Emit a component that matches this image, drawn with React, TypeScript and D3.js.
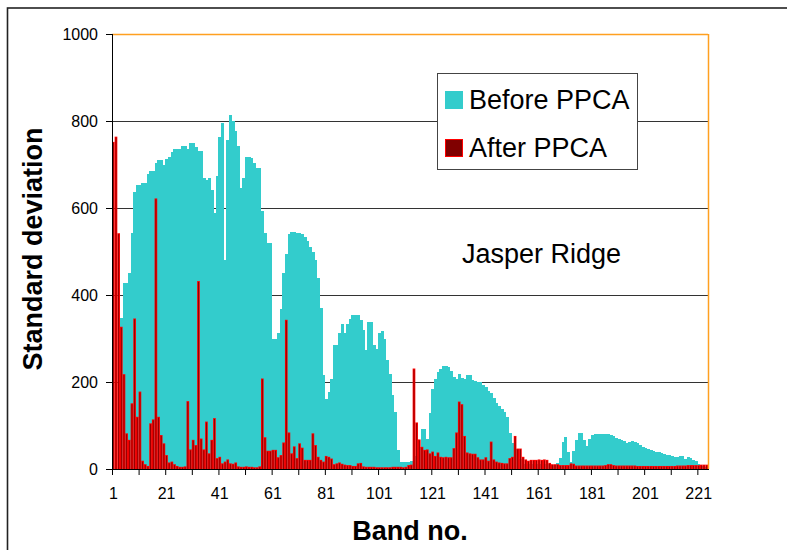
import React from "react";
import * as d3 from "d3";

const bands: number[] = Array.from({ length: 224 }, (_, i) => i + 1);

const beforePPCA: number[] = [
  0, 0, 0, 346, 428, 428, 450, 542, 637, 653,
  653, 658, 658, 678, 684, 684, 704, 710, 710, 700,
  712, 718, 728, 735, 735, 735, 743, 743, 735, 750,
  750, 740, 730, 730, 668, 664, 668, 641, 589, 674,
  764, 795, 480, 756, 814, 800, 778, 743, 645, 670,
  718, 718, 715, 703, 691, 691, 592, 543, 519, 519,
  298, 300, 313, 367, 451, 494, 540, 545, 545, 543,
  543, 540, 534, 525, 510, 498, 480, 440, 369, 216,
  162, 178, 206, 285, 285, 313, 333, 313, 333, 344,
  354, 354, 354, 342, 320, 274, 339, 339, 285, 277,
  312, 318, 300, 251, 218, 170, 130, 44, 15, 15,
  15, 15, 19, 19, 30, 50, 93, 93, 70, 128,
  183, 206, 224, 231, 237, 237, 235, 226, 211, 208,
  218, 210, 206, 216, 216, 205, 203, 199, 199, 193,
  188, 180, 174, 163, 151, 145, 138, 132, 120, 82,
  60, 45, 30, 22, 12, 12, 12, 12, 12, 12,
  12, 12, 12, 12, 12, 10, 10, 14, 25, 63,
  73, 40, 17, 42, 67, 82, 82, 67, 53, 70,
  78, 80, 80, 80, 80, 80, 80, 78, 76, 72,
  68, 66, 65, 60, 63, 65, 62, 60, 55, 51,
  48, 45, 44, 42, 40, 38, 37, 34, 32, 32,
  30, 28, 28, 30, 29, 22, 27, 25, 21, 18,
  12, 6, 5, 5,
];

const afterPPCA: number[] = [
  752, 764, 542, 327, 218, 82, 67, 151, 346, 120,
  178, 19, 11, 7, 105, 114, 622, 120, 78, 59,
  32, 15, 17, 11, 7, 5, 5, 6, 156, 45,
  67, 55, 432, 70, 45, 109, 36, 67, 117, 25,
  28, 13, 17, 22, 13, 12, 15, 6, 5, 5,
  6, 5, 5, 4, 4, 6, 208, 73, 42, 42,
  44, 44, 27, 32, 61, 343, 84, 36, 52, 25,
  59, 49, 21, 21, 21, 82, 55, 28, 21, 17,
  30, 28, 24, 11, 13, 15, 12, 10, 9, 9,
  7, 7, 13, 14, 6, 5, 5, 5, 5, 4,
  4, 4, 4, 4, 4, 5, 5, 5, 5, 4,
  5, 9, 10, 231, 107, 68, 51, 44, 45, 36,
  40, 30, 38, 28, 27, 28, 27, 27, 48, 84,
  155, 149, 76, 38, 36, 35, 35, 27, 22, 22,
  27, 19, 63, 22, 17, 15, 14, 13, 13, 25,
  28, 76, 47, 47, 28, 22, 19, 21, 21, 21,
  22, 21, 22, 21, 14, 11, 11, 11, 9, 9,
  9, 9, 13, 12, 8, 8, 8, 8, 8, 8,
  8, 8, 8, 8, 8, 9, 11, 11, 9, 8,
  8, 8, 8, 8, 8, 8, 8, 7, 7, 7,
  7, 7, 7, 7, 7, 7, 7, 7, 7, 7,
  7, 7, 8, 8, 8, 8, 9, 9, 9, 9,
  9, 10, 10, 10,
];

const yTicks: number[] = [0, 200, 400, 600, 800, 1000];
const xLabelBands: number[] = [1, 21, 41, 61, 81, 101, 121, 141, 161, 181, 201, 221];
const xTickBoundaries: number[] = [0, 10, 20, 30, 40, 50, 60, 70, 80, 90, 100, 110, 120, 130, 140, 150, 160, 170, 180, 190, 200, 210, 220];
const seriesNames: string[] = ["Before PPCA", "After PPCA"];

const FONT = "'Liberation Sans', Arial, sans-serif";
const CYAN = "#33CCCC";
const DARKRED = "#800000";
const RED = "#FF0000";

export default function App() {
  const W = 787, H = 550;
  const left = 112, right = 708, top = 34, bottom = 469;
  const x = d3.scaleBand<number>().domain(bands).range([left, right]).padding(0);
  const y = d3.scaleLinear().domain([0, 1000]).range([bottom, top]);
  const bw = x.bandwidth();
  const step = x.step();
  const inset = 0.9;

  return (
    <svg width={W} height={H} style={{ position: "absolute", left: 0, top: 0, background: "#fff" }} fontFamily={FONT}>
      <rect x={0} y={0} width={W} height={H} fill="#fff" />
      {/* outer chart border */}
      <rect x={7.5} y={8} width={900} height={900} fill="none" stroke="#222" strokeWidth={1.6} />

      {/* gridlines */}
      {yTicks.filter((t) => t > 0 && t < 1000).map((t) => (
        <line key={"g" + t} x1={left} x2={right} y1={y(t) + 0.5} y2={y(t) + 0.5} stroke="#333" strokeWidth={1} />
      ))}

      {/* before bars */}
      <g shapeRendering="crispEdges">
        {bands.map((b, i) => (
          <rect key={"b" + b} x={x(b)} y={y(beforePPCA[i])} width={bw + 0.4} height={bottom - y(beforePPCA[i])} fill={CYAN} />
        ))}
      </g>
      {/* after bars: red body with dark-red core */}
      <g>
        {bands.map((b, i) => {
          const x0 = x(b) as number;
          const y0 = y(afterPPCA[i]);
          const h = bottom - y0;
          return (
            <g key={"a" + b}>
              <rect x={x0} y={y0} width={bw} height={h} fill={RED} />
              {h > inset * 1.5 && (
                <rect x={x0 + inset} y={y0 + inset} width={Math.max(0, bw - 2 * inset)} height={h - inset} fill={DARKRED} />
              )}
            </g>
          );
        })}
      </g>

      {/* plot border: orange top/right */}
      <line x1={left} x2={right} y1={top + 0.5} y2={top + 0.5} stroke="#FFA020" strokeWidth={1.5} />
      <line x1={right + 0.5} x2={right + 0.5} y1={top} y2={bottom} stroke="#FFA020" strokeWidth={1.5} />

      {/* axes */}
      <line x1={left + 0.5} x2={left + 0.5} y1={top} y2={bottom} stroke="#000" strokeWidth={1} />
      <line x1={left} x2={right + 1} y1={bottom + 0.5} y2={bottom + 0.5} stroke="#000" strokeWidth={1} />

      {/* y ticks */}
      {yTicks.map((t) => (
        <g key={"yt" + t}>
          <line x1={left - 6} x2={left} y1={y(t) + 0.5} y2={y(t) + 0.5} stroke="#000" />
          <text x={98} y={y(t)} textAnchor="end" dominantBaseline="central" fontSize={16} fill="#000">{t}</text>
        </g>
      ))}

      {/* x ticks */}
      {xTickBoundaries.map((k) => (
        <line key={"xt" + k} x1={left + k * step + 0.5} x2={left + k * step + 0.5} y1={bottom} y2={bottom + 6} stroke="#000" />
      ))}
      {xLabelBands.map((b) => (
        <text key={"xl" + b} x={(x(b) as number) + bw / 2} y={499} textAnchor="middle" fontSize={16} fill="#000">{b}</text>
      ))}

      {/* axis titles */}
      <text x={410} y={540} textAnchor="middle" fontSize={27} fontWeight="bold" fill="#000">Band no.</text>
      <text transform={`translate(42, 249) rotate(-90)`} textAnchor="middle" fontSize={27} fontWeight="bold" fill="#000">Standard deviation</text>

      {/* annotation */}
      <text x={462} y={263} fontSize={27} fill="#000">Jasper Ridge</text>

      {/* legend */}
      <rect x={437.5} y={73.5} width={200} height={96} fill="#fff" stroke="#444" strokeWidth={1} />
      <rect x={445} y={91} width={18} height={18} fill={CYAN} />
      <text x={469} y={109} fontSize={27} fill="#000">{seriesNames[0]}</text>
      <rect x={445.5} y={139.5} width={17} height={17} fill={DARKRED} stroke={RED} strokeWidth={1} />
      <text x={469} y={157} fontSize={27} fill="#000">{seriesNames[1]}</text>
    </svg>
  );
}
